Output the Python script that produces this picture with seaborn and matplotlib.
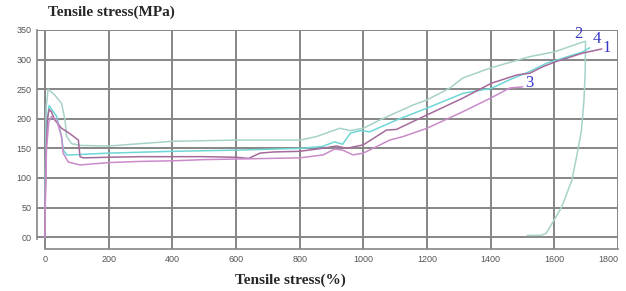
import numpy as np
import pandas as pd
import matplotlib
matplotlib.use("Agg")
import matplotlib.pyplot as plt
from matplotlib import font_manager
from matplotlib.ticker import FixedLocator
import seaborn as sns

# curve 1 (dark mauve)
x1 = [0, 1, 4, 8, 13, 20, 31, 52, 78, 105, 110, 120, 200, 300, 400, 500, 600, 640, 675,
      720, 800, 870, 916, 947, 1000, 1073, 1104, 1198, 1313, 1402, 1482, 1523, 1564, 1607,
      1689, 1749]
y1 = [0, 60, 150, 200, 216, 212, 198, 184, 175, 164, 136, 134, 135, 136, 136, 136, 135, 133,
      142, 144, 145, 150, 154, 150, 156, 181, 182, 206, 235, 260, 274, 277, 288, 297, 311, 318]

# curve 2 (grey-teal, with unloading branch)
x2 = [0, 1, 4, 10, 31, 52, 63, 68, 84, 110, 200, 300, 402, 500, 601, 700, 801, 853, 926,
      958, 1000, 1052, 1155, 1200, 1272, 1313, 1400, 1523, 1600, 1680, 1698, 1697, 1693,
      1685, 1674, 1655, 1623, 1595, 1575, 1560, 1515]
y2 = [0, 100, 220, 250, 240, 226, 198, 170, 158, 155, 154, 158, 162, 163, 164, 164, 164, 170,
      184, 180, 184, 198, 223, 232, 252, 269, 286, 305, 313, 328, 331, 280, 230, 180, 147,
      96, 51, 25, 7, 3, 3]

# curve 3 (light purple)
x3 = [0, 1, 5, 12, 21, 37, 52, 57, 73, 110, 200, 300, 402, 500, 601, 700, 801, 874, 910,
      935, 968, 1000, 1083, 1125, 1200, 1313, 1400, 1460, 1501]
y3 = [0, 60, 150, 195, 204, 198, 170, 142, 127, 122, 126, 128, 129, 131, 132, 133, 134, 139,
      149, 147, 139, 142, 164, 170, 184, 212, 235, 252, 254]

# curve 4 (cyan)
x4 = [0, 1, 5, 13, 37, 52, 58, 68, 84, 200, 400, 600, 800, 870, 910, 935, 960, 990, 1020,
      1105, 1200, 1313, 1376, 1400, 1460, 1523, 1576, 1607, 1689, 1711]
y4 = [0, 80, 190, 222, 204, 170, 147, 139, 139, 142, 145, 147, 150, 153, 161, 157, 176, 180,
      178, 198, 218, 243, 249, 251, 266, 280, 294, 299, 313, 320]

samples = ["2", "4", "1", "3"]
colors = {"1": "#a56a9c", "2": "#a6d2c9", "3": "#c98bc9", "4": "#6fd6d6"}

curves = {"1": (x1, y1), "2": (x2, y2), "3": (x3, y3), "4": (x4, y4)}
frames = []
for s in samples:
    xs, ys = curves[s]
    frames.append(pd.DataFrame({"strain": xs, "stress": ys, "sample": s}))
df = pd.concat(frames, ignore_index=True)

sns.set_style("white")
plt.rcParams["font.family"] = ["DejaVu Sans"]

installed = {f.name for f in font_manager.fontManager.ttflist}
tick_font = "Liberation Sans Narrow" if "Liberation Sans Narrow" in installed else "Liberation Sans"

fig = plt.figure(figsize=(6.26, 2.91), dpi=100)
ax = fig.add_axes([37 / 626, 1 - 249 / 291, (618 - 37) / 626, (249 - 30) / 291])

sns.lineplot(data=df, x="strain", y="stress", hue="sample", hue_order=samples,
             palette=colors, sort=False, estimator=None, legend=False,
             linewidth=1.1, ax=ax)

ax.set_xlim(-25, 1800)
ax.set_ylim(-20, 350)

grey = "#868686"
ax.set_xticks(range(0, 1801, 200))
ax.set_xticklabels([str(v) for v in range(0, 1801, 200)])
ax.set_yticks(range(0, 351, 50))
ax.set_yticklabels(["00"] + [str(v) for v in range(50, 351, 50)])
ax.xaxis.set_minor_locator(FixedLocator([v for v in range(40, 1800, 40) if v % 200]))
ax.yaxis.set_minor_locator(FixedLocator([v for v in range(10, 350, 10) if v % 50]))
ax.tick_params(which="major", length=0, labelsize=6.5, labelcolor="#555555", pad=4)
ax.tick_params(which="minor", direction="in", length=5, width=0.9, color=grey)
for lab in ax.get_xticklabels() + ax.get_yticklabels():
    lab.set_family(tick_font)
ax.get_xticklabels()[-1].set_horizontalalignment("right")
ax.get_xticklabels()[-1].set_x(1806)
ax.grid(True, which="major", color=grey, linewidth=1.4)
ax.set_axisbelow(True)

for side in ["top", "right"]:
    ax.spines[side].set_visible(False)
ax.spines["left"].set_bounds(-3, 350)
ax.spines["bottom"].set_bounds(0, 1800)
for side in ["left", "bottom"]:
    ax.spines[side].set_color(grey)
    ax.spines[side].set_linewidth(1.2)

ax.set_xlabel("")
ax.set_ylabel("")

# sample numbers at curve ends
label_offsets = {"2": (-8, 5), "4": (2, 6), "1": (0.5, 1), "3": (2, 3)}
for s in samples:
    xs, ys = curves[s]
    i = int(np.argmax(ys))
    ax.annotate(s, (xs[i], ys[i]), xytext=label_offsets[s], textcoords="offset points",
                color="#3535c8", fontsize=12, family="Liberation Serif",
                ha="left", va="center")

fig.text(48 / 626, 1 - 12 / 291, "Tensile stress(MPa)", family="Liberation Serif",
         fontweight="bold", fontsize=11, ha="left", va="center")
fig.text(290 / 626, 1 - 280 / 291, "Tensile stress(%)", family="Liberation Serif",
         fontweight="bold", fontsize=11, ha="center", va="center")

fig.savefig("out.png", dpi=100)
